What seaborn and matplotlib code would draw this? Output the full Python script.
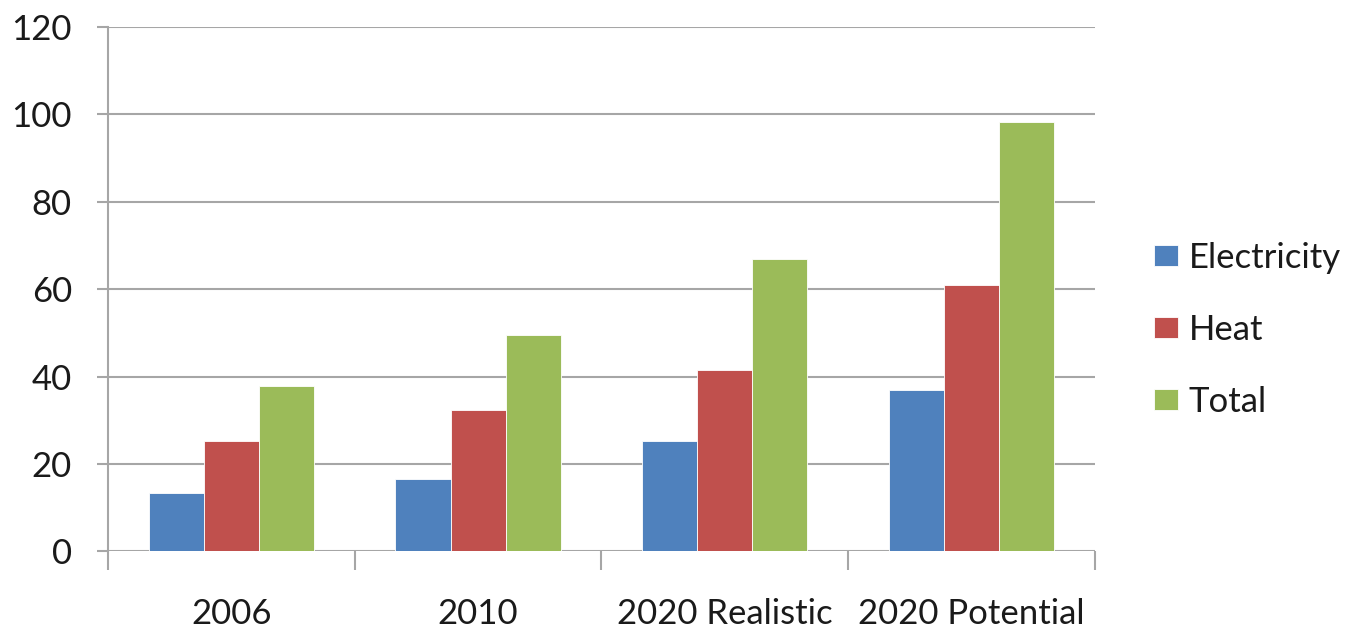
import pandas as pd
import numpy as np
from matplotlib import pyplot as plt
import seaborn as sns

# values
scenarios = ['2006', '2010', '2020 Realistic', '2020 Potential']
electricity = [13.3, 16.6, 25.2, 37.0]
heat = [25.2, 32.4, 41.6, 60.9]
total = [37.9, 49.5, 66.8, 98.2]
series = ['Electricity', 'Heat', 'Total']
colors = ['#4F81BD', '#C0504D', '#9BBB59']

sns.set_theme(style='white')
plt.rcParams['font.family'] = ['Lato', 'DejaVu Sans']

df = pd.DataFrame({
    'Scenario': scenarios * 3,
    'Series': np.repeat(series, len(scenarios)),
    'Value': electricity + heat + total,
})

fig = plt.figure(figsize=(13.5, 6.3), dpi=100)
ax = fig.add_axes([0.08, 0.125, 0.731, 0.832])

sns.barplot(data=df, x='Scenario', y='Value', hue='Series', order=scenarios,
            hue_order=series, palette=colors, width=0.67, saturation=1,
            edgecolor='white', linewidth=0.6, ax=ax, zorder=3)

ax.set_ylim(0, 120)
ax.set_xlim(-0.5, len(scenarios) - 0.5)
ax.set_yticks(range(0, 121, 20))
ax.yaxis.grid(True, color='#A6A6A6', linewidth=1.5, zorder=0)
ax.set_axisbelow(True)
ax.set_xlabel('')
ax.set_ylabel('')

for side in ['top', 'right', 'bottom']:
    ax.spines[side].set_visible(False)
ax.spines['left'].set_color('#A6A6A6')
ax.spines['left'].set_linewidth(1.5)

# category separators below the axis, like the original
ax.set_xticks(np.arange(-0.5, len(scenarios), 1.0), minor=True)
ax.tick_params(axis='x', which='minor', length=14, width=1.5, color='#A6A6A6',
               bottom=True)
ax.tick_params(axis='x', which='major', length=0, pad=34, labelsize=25,
               labelcolor='#1a1a1a')
ax.tick_params(axis='y', which='major', length=8, width=1.5, color='#A6A6A6',
               left=True, pad=18, labelsize=25, labelcolor='#1a1a1a')

handles, labels = ax.get_legend_handles_labels()
ax.legend_.remove()
fig.legend(handles, labels, loc='center left', bbox_to_anchor=(0.8315, 0.476),
           frameon=False, fontsize=25, labelspacing=1.15, handlelength=0.7,
           handleheight=0.55, handletextpad=0.3, labelcolor='#1a1a1a')

fig.savefig('out.png', dpi=100)
